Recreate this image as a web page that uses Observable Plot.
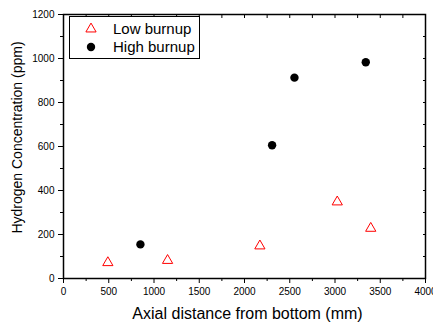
<!DOCTYPE html>
<html><head><meta charset="utf-8">
<script src="https://cdn.jsdelivr.net/npm/d3@7"></script>
<script src="https://cdn.jsdelivr.net/npm/@observablehq/plot@0.6"></script>
<style>
body{margin:0;background:#fff;font-family:"Liberation Sans",Arial,sans-serif;}
#wrap{position:relative;width:433px;height:322px;overflow:hidden;}
#legend{position:absolute;left:69px;top:16px;}
</style></head><body><div id="wrap"></div>
<script>
const seriesNames = ["Low burnup", "High burnup"];
const lowX = [490, 1150, 2170, 3025, 3395];
const lowY = [72, 82, 148, 348, 228];
const highX = [850, 2305, 2552, 3340];
const highY = [155, 606, 913, 983];
const xTicks = [0, 500, 1000, 1500, 2000, 2500, 3000, 3500, 4000];
const yTicks = [0, 200, 400, 600, 800, 1000, 1200];
const xTitle = "Axial distance from bottom (mm)";
const yTitle = "Hydrogen Concentration (ppm)";

const low = lowX.map((x, i) => ({x, y: lowY[i]}));
const high = highX.map((x, i) => ({x, y: highY[i]}));
const xMinor = d3.range(250, 4000, 500);
const yMinor = d3.range(100, 1200, 200);
const xAll = d3.range(0, 4001, 250);
const yAll = d3.range(0, 1201, 100);
const blank = () => "";
const plain = d => String(d);
const triR = 3.8, dotR = 4.2;

const chart = Plot.plot({
  width: 433, height: 322,
  marginLeft: 63, marginRight: 8, marginTop: 14, marginBottom: 44,
  style: {fontFamily: "Liberation Sans, Arial, sans-serif", fontSize: "10px", color: "#000", background: "transparent", overflow: "visible"},
  x: {domain: [0, 4000]},
  y: {domain: [0, 1200]},
  marks: [
    Plot.axisX(xMinor, {anchor: "bottom", tickSize: 3, tickFormat: blank, label: null}),
    Plot.axisX(xTicks, {anchor: "bottom", tickSize: 5, tickPadding: 4, tickFormat: plain, label: null, fontSize: 10}),
    Plot.axisY(yMinor, {anchor: "left", tickSize: 3, tickFormat: blank, label: null}),
    Plot.axisY(yTicks, {anchor: "left", tickSize: 5, tickPadding: 4, tickFormat: plain, label: null, fontSize: 10}),
    Plot.axisX(xAll, {anchor: "top", tickSize: -3, tickFormat: blank, label: null}),
    Plot.axisY(yAll, {anchor: "right", tickSize: -3, tickFormat: blank, label: null}),
    Plot.frame({stroke: "#000", strokeWidth: 1.5}),
    Plot.text([xTitle], {frameAnchor: "bottom", lineAnchor: "middle", textAnchor: "middle", dy: 35, dx: 3, fontSize: 16}),
    Plot.text([yTitle], {frameAnchor: "left", textAnchor: "middle", lineAnchor: "middle", dx: -46, dy: -9, rotate: -90, fontSize: 14}),
    Plot.dot(low, {x: "x", y: "y", symbol: "triangle", r: triR, stroke: "#ff0000", fill: "none", strokeWidth: 1}),
    Plot.dot(high, {x: "x", y: "y", symbol: "circle", r: dotR, fill: "#000", stroke: "none"})
  ]
});
const wrap = document.getElementById("wrap");
wrap.appendChild(chart);

// legend
const ns = "http://www.w3.org/2000/svg";
const lg = document.createElementNS(ns, "svg");
lg.setAttribute("id", "legend");
lg.setAttribute("width", 132);
lg.setAttribute("height", 44);
const rect = document.createElementNS(ns, "rect");
rect.setAttribute("x", 0.5); rect.setAttribute("y", 0.5);
rect.setAttribute("width", 130); rect.setAttribute("height", 42);
rect.setAttribute("fill", "#fff"); rect.setAttribute("stroke", "#000"); rect.setAttribute("stroke-width", 1);
lg.appendChild(rect);
const syms = [
  {d: d3.symbol(d3.symbolTriangle, Math.PI * triR * triR)(), fill: "none", stroke: "#ff0000"},
  {d: d3.symbol(d3.symbolCircle, Math.PI * dotR * dotR)(), fill: "#000", stroke: "none"}
];
seriesNames.forEach((name, i) => {
  const cy = 13 + i * 18;
  const p = document.createElementNS(ns, "path");
  p.setAttribute("d", syms[i].d);
  p.setAttribute("transform", `translate(22,${cy})`);
  p.setAttribute("fill", syms[i].fill);
  p.setAttribute("stroke", syms[i].stroke);
  lg.appendChild(p);
  const t = document.createElementNS(ns, "text");
  t.setAttribute("x", 44); t.setAttribute("y", cy);
  t.setAttribute("dy", "0.36em");
  t.setAttribute("font-size", 15);
  t.setAttribute("font-family", "Liberation Sans, Arial, sans-serif");
  t.textContent = name;
  lg.appendChild(t);
});
wrap.appendChild(lg);
</script></body></html>
